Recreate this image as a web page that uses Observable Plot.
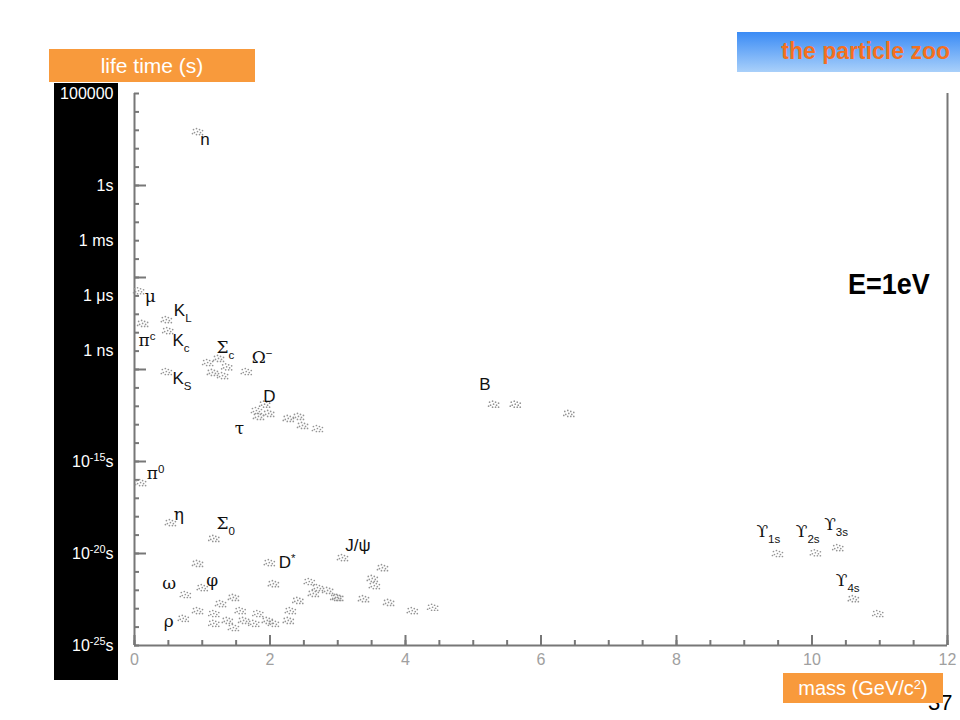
<!DOCTYPE html>
<html><head><meta charset="utf-8">
<script src="https://cdn.jsdelivr.net/npm/d3@7"></script>
<script src="https://cdn.jsdelivr.net/npm/@observablehq/plot@0.6"></script>
<style>
html,body{margin:0;padding:0;background:#fff;width:960px;height:720px;overflow:hidden;font-family:"Liberation Sans",Arial,sans-serif;}
#panel{position:absolute;left:54px;top:83px;width:64px;height:597px;background:#000;z-index:0;}
#chart{position:absolute;left:0;top:0;z-index:1;}
.obox{position:absolute;background:#f89a3c;color:#fff;text-align:center;z-index:3;}
#ytitle{left:49px;top:49px;width:206px;height:33px;line-height:33px;font-size:21px;}
#xtitle{left:783px;top:673px;width:160px;height:30px;line-height:30px;font-size:20px;}
#xtitle sup{font-size:65%;vertical-align:0.5em;line-height:0;}
#title{position:absolute;left:737px;top:32px;width:223px;height:40px;background:linear-gradient(#3a8bf5,#a9d0fa);z-index:3;}
#title span{position:absolute;right:10px;top:6px;font-size:23px;font-weight:bold;color:#f4701f;}
#energy{position:absolute;left:848px;top:268px;font-size:27px;font-weight:bold;color:#000;z-index:2;transform:scaleY(1.1);transform-origin:left top;}
#page{position:absolute;left:928px;top:690px;font-size:22px;color:#000;z-index:2;}
</style></head><body>
<div id="panel"></div>
<div id="chart"></div>
<div id="ytitle" class="obox">life time (s)</div>
<div id="title"><span>the particle zoo</span></div>
<div id="energy">E=1eV</div>
<div id="page">37</div>
<div id="xtitle" class="obox">mass (GeV/c<sup>2</sup>)</div>
<script>
// ---- data: measured clusters (mass in GeV/c², lifetime in s) ----
const pointMass = [
  0.93, 0.06, 0.12, 0.47, 0.49, 0.47,
  1.08, 1.24, 1.36, 1.15, 1.30, 1.65,
  1.80, 1.92, 1.98, 1.83,
  2.27, 2.42, 2.48, 2.70,
  5.30, 5.62, 6.41,
  0.09, 0.53, 1.17, 0.93, 0.75, 1.00,
  1.99, 2.05, 3.07,
  3.66, 3.51, 3.54, 3.38, 3.75, 4.10, 4.40, 2.97,
  2.58, 2.70, 2.85, 3.00, 2.64, 2.41, 2.30, 2.27,
  0.72, 0.93, 1.17, 1.27, 1.46, 1.56, 1.37, 1.17, 1.61, 1.82, 1.96, 1.76, 2.05, 1.46,
  9.49, 10.05, 10.38, 10.61, 10.97
];
const pointLife = [
  8.5e2, 1.9e-6, 3.2e-8, 5.2e-8, 1.3e-8, 7.8e-11,
  2.4e-10, 4.0e-10, 1.4e-10, 6.9e-11, 4.7e-11, 7.8e-11,
  5.9e-13, 1.3e-12, 4.1e-13, 2.8e-13,
  2.2e-13, 2.8e-13, 9.1e-14, 6.2e-14,
  1.3e-12, 1.3e-12, 4.1e-13,
  7.2e-17, 4.8e-19, 6.6e-20, 2.9e-21, 5.9e-23, 1.4e-22,
  3.2e-21, 2.3e-22, 6.0e-21,
  1.7e-21, 4.4e-22, 1.8e-22, 3.5e-23, 2.2e-23, 7.9e-24, 1.2e-23, 4.1e-23,
  3.0e-22, 1.4e-22, 9.8e-23, 4.1e-23, 6.8e-23, 2.8e-23, 7.9e-24, 2.3e-24,
  3.0e-24, 7.9e-24, 5.5e-24, 1.9e-23, 4.1e-23, 7.9e-24, 2.3e-24, 1.6e-24, 2.3e-24, 5.5e-24, 2.3e-24, 1.6e-24, 1.6e-24, 9.5e-25,
  1.0e-20, 1.1e-20, 2.1e-20, 3.5e-23, 5.5e-24
];
// ---- particle labels ----
const labelText = ["n","μ","π^{c}","K_{L}","K_{c}","K_{S}","Σ_{c}","Ω^{−}","D","τ","B",
  "π^{0}","η","Σ_{0}","J/ψ","D^{*}","ω","φ","ρ","ϒ_{1s}","ϒ_{2s}","ϒ_{3s}","ϒ_{4s}"];
const labelMass = [0.97,0.15,0.06,0.58,0.56,0.56,1.21,1.73,1.90,1.48,5.09,
  0.18,0.58,1.21,3.11,2.13,0.41,1.06,0.43,9.18,9.76,10.18,10.35];
const labelLife = [3.2e2,9.3e-7,3.8e-9,1.6e-7,3.8e-9,3.2e-11,1.6e-9,4.5e-10,3.4e-12,6.2e-14,1.5e-11,
  2.2e-16,1.3e-18,4.3e-19,2.7e-20,3.2e-21,2.3e-22,3.4e-22,2.0e-24,1.6e-19,1.6e-19,3.8e-19,3.4e-22];
// ---- axis ticks ----
const yLabelTicks = [1e5, 1, 1e-3, 1e-6, 1e-9, 1e-15, 1e-20, 1e-25];
const yLabelNames = ["100000", "1s", "1 ms", "1 μs", "1 ns", "10^{-15}s", "10^{-20}s", "10^{-25}s"];
const yMinorTicks = [1e5,1e4,1e3,1e2,1e1,1,1e-1,1e-2,1e-3,1e-4,1e-5,1e-6,1e-7,1e-8,1e-9,1e-10,
  1e-11,1e-12,1e-13,1e-14,1e-15,1e-16,1e-17,1e-18,1e-19,1e-20,1e-21,1e-22,1e-23,1e-24,1e-25];
const yMajorTicks = [1, 1e-5, 1e-10, 1e-15, 1e-20];
const xMinorTicks = [0,0.5,1,1.5,2,2.5,3,3.5,4,4.5,5,5.5,6,6.5,7,7.5,8,8.5,9,9.5,10,10.5,11,11.5,12];
const xMajorTicks = [0,2,4,6,8,10,12];

const points = pointMass.map((m, i) => ({mass: m, life: pointLife[i]}));
const labels = labelText.map((t, i) => ({text: t, mass: labelMass[i], life: labelLife[i]}));
const yNameMap = new Map(yLabelTicks.map((v, i) => [v, yLabelNames[i]]));

// small offsets that give each cluster its speckled look
const speckle = [[-4,-2],[-1,-3],[2,-2],[5,-1],[-3,1],[0,0],[3,1],[-1,3],[2,3],[-5,2],[5,3]];

const axisColor = "#777";
const plot = Plot.plot({
  width: 960, height: 720,
  marginLeft: 134, marginRight: 13, marginTop: 93, marginBottom: 75,
  style: {background: "transparent", fontFamily: "'Liberation Sans', Arial, sans-serif", overflow: "visible"},
  x: {domain: [0, 12]},
  y: {type: "log", domain: [1e-25, 1e5]},
  marks: [
    Plot.ruleX([0, 12], {stroke: axisColor, strokeWidth: 2}),
    Plot.ruleY([1e-25], {stroke: axisColor, strokeWidth: 2}),
    Plot.axisY({ticks: yMinorTicks, tickSize: -5, fill: "none", stroke: axisColor, strokeWidth: 2, label: null}),
    Plot.axisY({ticks: yMajorTicks, tickSize: -12, fill: "none", stroke: axisColor, strokeWidth: 2, label: null}),
    Plot.axisY({ticks: yLabelTicks, tickSize: 0, tickPadding: 21, stroke: "none", fill: "white", fontSize: 16,
      tickFormat: d => yNameMap.get(d), label: null}),
    Plot.axisX({ticks: xMinorTicks, tickSize: -5, fill: "none", stroke: axisColor, strokeWidth: 2, label: null}),
    Plot.axisX({ticks: xMajorTicks, tickSize: -10, fill: "none", stroke: axisColor, strokeWidth: 2, label: null}),
    Plot.axisX({ticks: xMajorTicks, tickSize: 0, tickPadding: 8, stroke: "none", fill: "#a0a0a0", fontSize: 16,
      tickFormat: d => String(d), label: null}),
    ...speckle.map(([dx, dy]) => Plot.dot(points, {x: "mass", y: "life", r: 0.85, fill: "#959595", dx, dy})),
    Plot.text(labels, {x: "mass", y: "life", text: "text", textAnchor: "start", fontSize: 17, fill: "#111"})
  ]
});
document.getElementById("chart").appendChild(plot);

// turn _{..} and ^{..} markup into real sub/superscripts
function rich(el) {
  const s = el.textContent;
  if (/^[\u0370-\u03FF]/.test(s)) el.setAttribute("font-family", "'DejaVu Serif', 'Liberation Serif', serif");
  if (!/[_^]\{/.test(s)) return;
  const sel = d3.select(el);
  sel.text(null);
  const re = /([_^])\{([^}]*)\}/g;
  let last = 0, m;
  while ((m = re.exec(s))) {
    if (m.index > last) sel.append("tspan").text(s.slice(last, m.index));
    sel.append("tspan").attr("font-size", "68%").attr("font-family", "'Liberation Sans', Arial, sans-serif")
      .attr("baseline-shift", m[1] === "^" ? "super" : "sub").text(m[2]);
    last = re.lastIndex;
  }
  if (last < s.length) sel.append("tspan").text(s.slice(last));
}
d3.select(plot).selectAll("text").each(function() { rich(this); });
</script>
</body></html>
